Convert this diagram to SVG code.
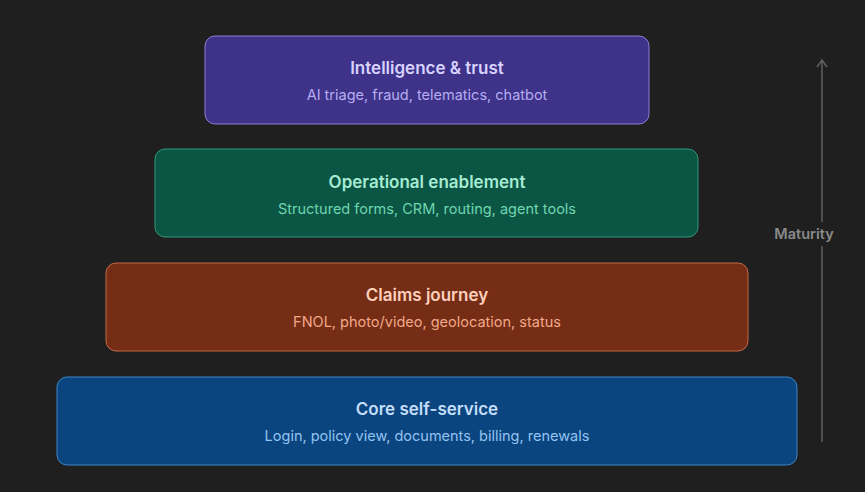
<svg xmlns="http://www.w3.org/2000/svg" width="865" height="492" viewBox="0 0 865 492">
<style>
text{font-family:Inter,"Noto Sans",sans-serif;text-anchor:middle}
.t{font-size:17px;font-weight:600}
.s{font-size:14.5px}
.ax{stroke:#5f5f5f;stroke-width:1.5;fill:none}
</style>
<rect width="865" height="492" fill="#1f1f1f"/>
<g id="n1"><rect x="205" y="36" width="444" height="88" rx="10" fill="#3e3289" stroke="#8b7fd6"/>
<text class="t" x="427" y="74" fill="#d8d2ff">Intelligence &amp; trust</text>
<text class="s" x="427" y="100" fill="#b7adf2">AI triage, fraud, telematics, chatbot</text></g>
<g id="n2"><rect x="155" y="149" width="543" height="88" rx="10" fill="#0b5545" stroke="#2f9a7a"/>
<text class="t" x="427" y="188" fill="#a6ecd2">Operational enablement</text>
<text class="s" x="427" y="214" fill="#6fd6ae">Structured forms, CRM, routing, agent tools</text></g>
<g id="n3"><rect x="106" y="263" width="642" height="88" rx="10" fill="#752e15" stroke="#c46a45"/>
<text class="t" x="427" y="301" fill="#ffd0bd">Claims journey</text>
<text class="s" x="427" y="327" fill="#f2a88a">FNOL, photo/video, geolocation, status</text></g>
<g id="n4"><rect x="57" y="377" width="740" height="88" rx="10" fill="#0b4580" stroke="#3d86c8"/>
<text class="t" x="427" y="415" fill="#c4defa">Core self-service</text>
<text class="s" x="427" y="441" fill="#93c3f0">Login, policy view, documents, billing, renewals</text></g>
<g id="connectors">
<path class="ax" d="M822 442V246M822 222V60M817 67L822 60L827 67"/>
<text x="804" y="239" font-size="14.5" font-weight="600" fill="#8a8a8a">Maturity</text>
</g>
</svg>
